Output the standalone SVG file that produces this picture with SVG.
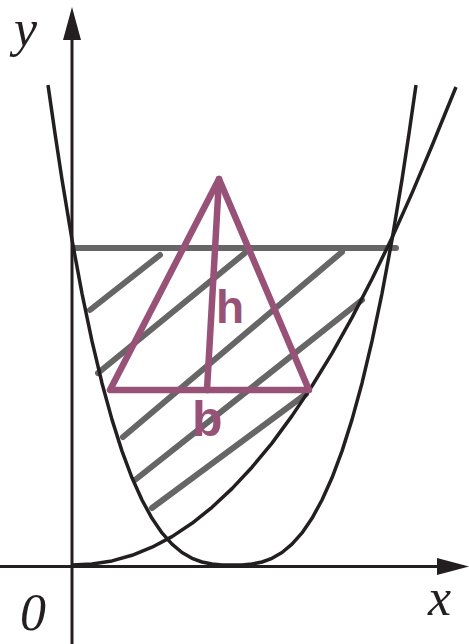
<svg xmlns="http://www.w3.org/2000/svg" width="469" height="644" viewBox="0 0 469 644">
<style>
.axis{stroke:#231f20;stroke-width:3;fill:none}
.head{fill:#231f20;stroke:none}
.curve{stroke:#231f20;stroke-width:3.5;fill:none;stroke-linejoin:round;stroke-linecap:butt}
.hatch{stroke:#666666;stroke-width:6;stroke-linecap:round;fill:none}
.tri{stroke:#985278;stroke-width:6.5;fill:none;stroke-linejoin:round;stroke-linecap:round}
.lbl{font-family:"Liberation Serif","Times New Roman",serif;font-style:italic;font-size:52px;fill:#231f20}
.hand{font-family:"Liberation Sans",Arial,sans-serif;font-weight:bold;fill:#985278}
</style>
<rect width="469" height="644" fill="#ffffff"/>
<g id="axes">
<line class="axis" x1="72" y1="38" x2="72" y2="644"/>
<polygon class="head" points="72,7 63,40 81,40"/>
<line class="axis" x1="0" y1="566.5" x2="440" y2="566.5"/>
<polygon class="head" points="469,566.5 437,558 437,575"/>
</g>
<g id="hatching">
<line class="hatch" x1="75" y1="248" x2="396" y2="248"/>
<line class="hatch" x1="90" y1="310" x2="160" y2="255"/>
<line class="hatch" x1="98" y1="373" x2="245" y2="253"/>
<line class="hatch" x1="123" y1="437" x2="342" y2="252"/>
<line class="hatch" x1="135" y1="480" x2="362" y2="300"/>
<line class="hatch" x1="152" y1="508" x2="306" y2="394"/>
</g>
<g id="curve-narrow">
<path class="curve" d="M48,85 L55,133.4 L62,179.6 L72,239.8 L82,293.5 L92,341.2 L102,383.2 L112,419.6 L122,451.1 L132,477.8 L142,500 L152,518.3 L162,532.9 L172,544.1 L182,552.5 L192,558.3 L202,562 L212,564 L222,564.9 L232,565 L242,564.9 L252,564 L262,562 L272,558.3 L282,552.5 L292,544.1 L302,532.9 L312,518.3 L322,500 L332,477.8 L342,451.1 L352,419.6 L362,383.2 L372,341.2 L382,293.5 L392,239.8 L402,179.6 L409,133.4 L416,85"/>
</g>
<g id="curve-wide">
<path class="curve" d="M72,565 L92,564 L112,560.9 L132,555.3 L152,547.2 L172,536.6 L192,523.3 L212,507.3 L232,488.6 L252,467.2 L272,443.1 L292,415.9 L312,386 L332,353.3 L352,317.6 L372,279 L392,237.8 L412,193.1 L432,145.7 L456,87"/>
</g>
<g id="triangle">
<polygon class="tri" points="219,179 110,390 309,390"/>
<line class="tri" x1="219" y1="179" x2="207" y2="390"/>
<text class="hand" x="216" y="323" font-size="46">h</text>
<text class="hand" x="192" y="436" font-size="50">b</text>
</g>
<g id="labels">
<text class="lbl" x="14" y="46">y</text>
<text class="lbl" x="20" y="630">0</text>
<text class="lbl" x="428" y="615">x</text>
</g>
</svg>
